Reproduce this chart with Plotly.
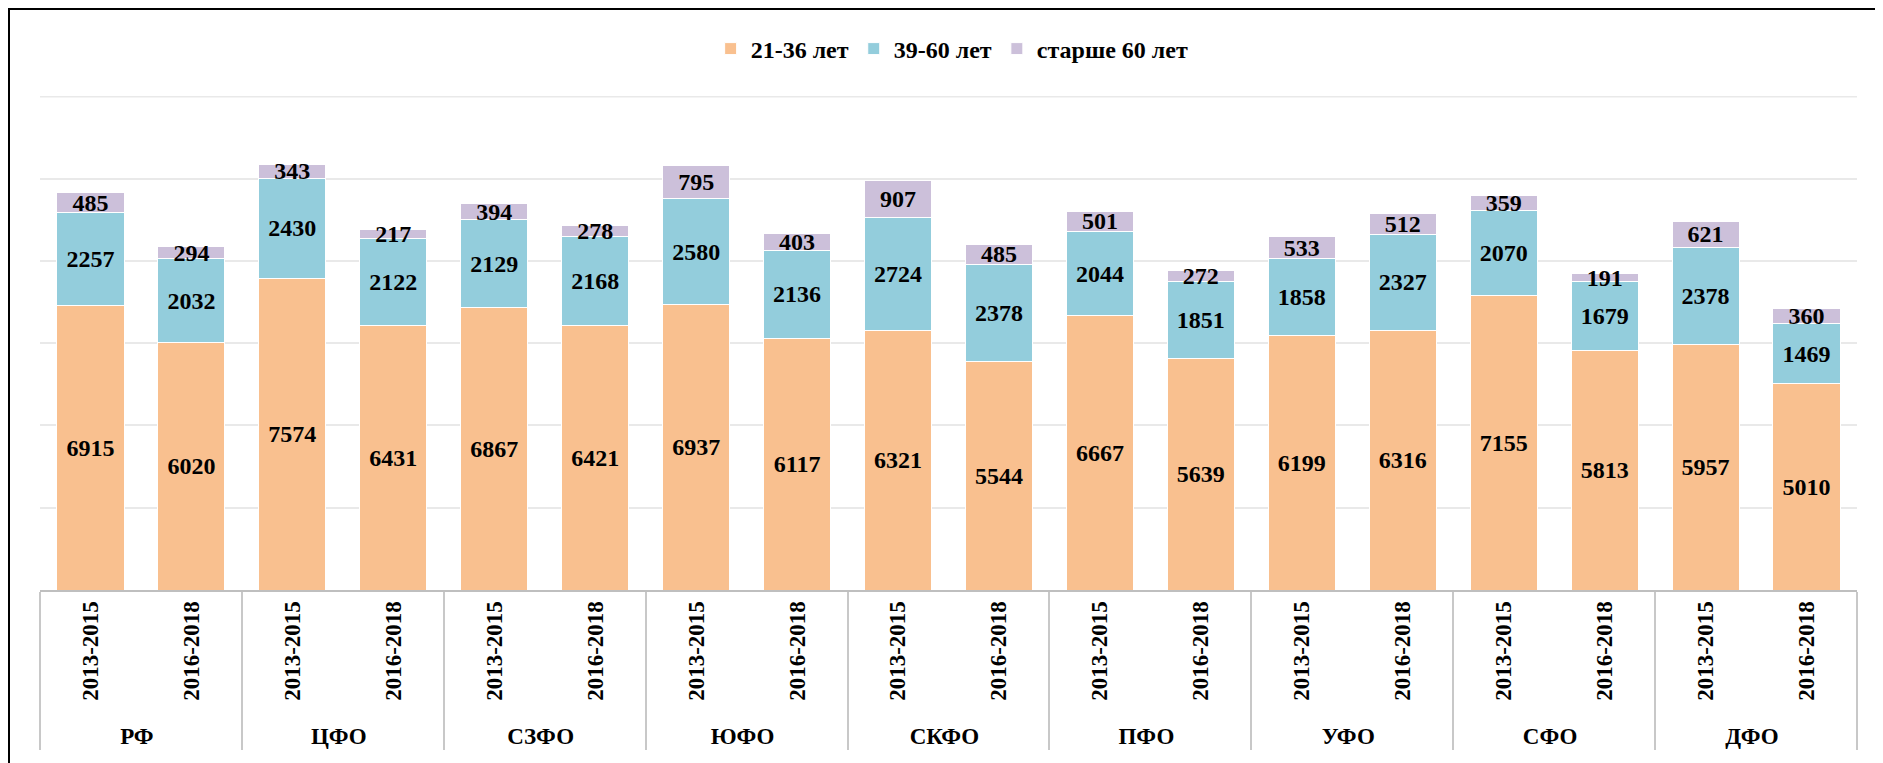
import plotly.graph_objects as go

districts = ["РФ", "ЦФО", "СЗФО", "ЮФО", "СКФО", "ПФО", "УФО", "СФО", "ДФО"]
periods = ["2013-2015", "2016-2018"]

age_21_36 = [6915, 6020, 7574, 6431, 6867, 6421, 6937, 6117, 6321, 5544,
             6667, 5639, 6199, 6316, 7155, 5813, 5957, 5010]
age_39_60 = [2257, 2032, 2430, 2122, 2129, 2168, 2580, 2136, 2724, 2378,
             2044, 1851, 1858, 2327, 2070, 1679, 2378, 1469]
age_60_plus = [485, 294, 343, 217, 394, 278, 795, 403, 907, 485,
               501, 272, 533, 512, 359, 191, 621, 360]

series_names = ["21-36 лет", "39-60 лет", "старше 60 лет"]
series_colors = ["#F9C08F", "#93CDDC", "#CCC0DA"]

x_groups = [d for d in districts for _ in periods]
x_periods = [p for _ in districts for p in periods]
n_cats = len(x_periods)

Y_MAX = 12000
Y_STEP = 2000

W, H = 1883, 763
ML, MR, MT, MB = 32, 34, 88, 181

FONT = "Liberation Serif, Times New Roman, serif"
GRID = "#E9E9E9"

fig = go.Figure()
for name, vals, col in zip(series_names, [age_21_36, age_39_60, age_60_plus], series_colors):
    fig.add_trace(go.Bar(
        x=[x_groups, x_periods],
        y=vals,
        name=name,
        marker=dict(color=col, line=dict(color="white", width=1)),
        text=[str(v) for v in vals],
        textposition="inside",
        insidetextanchor="middle",
        constraintext="none",
        textfont=dict(family=FONT, size=24, color="black", weight="bold"),
    ))

pw = W - ML - MR
ph = H - MT - MB


def px_to_paper_x(px):
    return (px - ML) / pw


def px_to_paper_y(py):
    return (H - MB - py) / ph


fig.update_layout(
    width=W, height=H,
    barmode="stack",
    bargap=0.335,
    plot_bgcolor="white",
    paper_bgcolor="white",
    margin=dict(l=ML, r=MR, t=MT, b=MB, autoexpand=False),
    uniformtext=dict(mode="show", minsize=24),
    font=dict(family=FONT, size=23, color="black", weight="bold"),
    legend=dict(
        orientation="h",
        x=0.502, xanchor="center",
        y=px_to_paper_y(41), yanchor="middle",
        font=dict(family=FONT, size=24, color="black", weight="bold"),
        itemwidth=30,
        traceorder="normal",
    ),
    xaxis=dict(
        type="multicategory",
        tickangle=-90,
        tickfont=dict(family=FONT, size=23, color="black", weight="bold"),
        showline=True, linecolor="#BFBFBF", linewidth=2,
        ticks="",
        showdividers=True, dividercolor="#C8C8C8", dividerwidth=2,
        showgrid=False,
        automargin=False,
    ),
    xaxis2=dict(
        overlaying="x",
        anchor="free",
        position=px_to_paper_y(H - MB - 5),
        range=[-0.5, n_cats - 0.5],
        tick0=-0.5, dtick=0.5,
        ticks="outside", ticklen=10, tickwidth=2, tickcolor="#BFBFBF",
        showticklabels=False, showgrid=False, showline=False, zeroline=False,
        fixedrange=True,
    ),
    yaxis=dict(
        range=[0, Y_MAX + 10],
        tick0=0, dtick=Y_STEP,
        showticklabels=False,
        showgrid=True, gridcolor=GRID, gridwidth=2,
        zeroline=False,
        showline=False,
        automargin=False,
    ),
    shapes=[
        dict(
            type="line", xref="paper", yref="y",
            x0=0, x1=1, y0=Y_MAX, y1=Y_MAX,
            line=dict(color=GRID, width=2), layer="below",
        ),
        dict(
            type="rect", xref="paper", yref="paper",
            x0=px_to_paper_x(1), x1=px_to_paper_x(W + 10),
            y0=px_to_paper_y(H + 10), y1=px_to_paper_y(1),
            line=dict(color="black", width=2), fillcolor="rgba(0,0,0,0)",
            layer="below",
        ),
    ],
)

fig.write_html("out.html")
